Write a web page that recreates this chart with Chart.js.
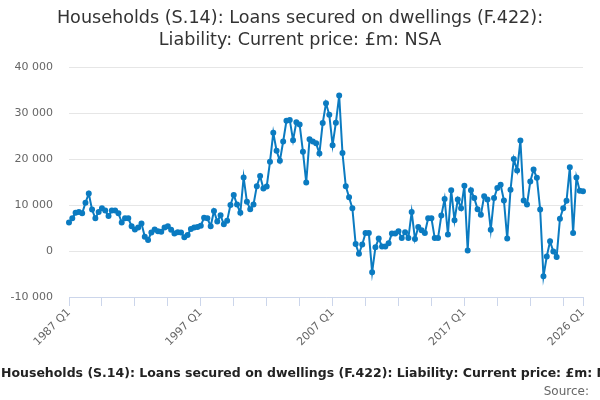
<!DOCTYPE html>
<html>
<head>
<meta charset="utf-8">
<script src="https://cdn.jsdelivr.net/npm/chart.js@4/dist/chart.umd.min.js"></script>
<style>
    html, body { margin: 0; padding: 0; background: #fff; }
    #wrap { position: relative; width: 600px; height: 400px; overflow: hidden; }
    #chartTitle {
        position: absolute; top: 6px; left: 0; width: 600px;
        text-align: center; font-family: 'DejaVu Sans', sans-serif;
        font-size: 17.6px; line-height: 22px; color: #333;
    }
    #footTitle {
        position: absolute; top: 365px; left: 1px; white-space: nowrap;
        font-family: 'DejaVu Sans', sans-serif; font-size: 12.5px; font-weight: bold; color: #222;
    }
    #footSource {
        position: absolute; top: 384px; right: 11px;
        font-family: 'DejaVu Sans', sans-serif; font-size: 12px; color: #666;
    }
    canvas { position: absolute; top: 0; left: 0; }
</style>
</head>
<body>
<div id="wrap">
    <canvas id="loansChart" width="600" height="400"></canvas>
    <div id="chartTitle">Households (S.14): Loans secured on dwellings (F.422):<br>Liability: Current price: £m: NSA</div>
    <div id="footTitle">Households (S.14): Loans secured on dwellings (F.422): Liability: Current price: £m: NSA</div>
    <div id="footSource">Source:</div>
</div>
<script>
// Quarters 1987 Q1 .. 2026 Q1
const startYear = 1987;
const quarterCount = 157;
const labelledQuarters = ['1987 Q1', '1997 Q1', '2007 Q1', '2017 Q1', '2026 Q1'];
const yTicks = [-10000, 0, 10000, 20000, 30000, 40000];

// £m
const loans = [
    6200, 7100, 8300, 8500, 8200, 10500, 12500, 9000, 7100, 8500,
    9300, 8800, 7600, 8800, 8800, 8200, 6200, 7100, 7100, 5400,
    4700, 5100, 6000, 3100, 2400, 4000, 4700, 4300, 4200, 5100,
    5400, 4600, 3800, 4100, 4000, 3000, 3500, 4800, 5100, 5200,
    5500, 7250, 7100, 5400, 8700, 6400, 7750, 5800, 6600, 10000,
    12200, 10100, 8300, 16000, 10700, 9100, 10100, 14100, 16300, 13600,
    14000, 19400, 25700, 21800, 19600, 23800, 28300, 28500, 24100, 28000,
    27500, 21600, 14900, 24300, 23800, 23400, 21200, 27800, 32100, 29600,
    23000, 27900, 33800, 21300, 14100, 11700, 9300, 1500, -600, 1400,
    3900, 3900, -4600, 800, 2700, 1000, 1000, 1700, 3800, 3800,
    4300, 2800, 4100, 2800, 8500, 2600, 5200, 4500, 3900, 7100,
    7100, 2800, 2800, 7700, 11300, 3600, 13200, 6700, 11200, 9300,
    14200, 100, 13200, 11500, 9100, 7900, 11900, 11200, 4600, 11500,
    13700, 14400, 11000, 2700, 13300, 20000, 17500, 24000, 11000, 10100,
    15100, 17700, 15900, 9000, -5500, -1200, 2100, -100, -1300, 7000,
    9300, 10900, 18200, 3900, 16000, 13100, 13000
];

const quarters = [];
for (let i = 0; i < quarterCount; i++) {
    quarters.push((startYear + Math.floor(i / 4)) + ' Q' + (i % 4 + 1));
}

function formatThousands(v) {
    const s = Math.abs(v).toString().replace(/\B(?=(\d{3})+(?!\d))/g, ' ');
    return (v < 0 ? '-' : '') + s;
}

// tick marks every 10 quarters, plus the last one
function hasTickMark(i) {
    return i % 10 === 0 || i === quarterCount - 1;
}

const axisFont = { family: "'DejaVu Sans', sans-serif", size: 11 };

new Chart(document.getElementById('loansChart'), {
    type: 'line',
    data: {
        labels: quarters,
        datasets: [{
            data: loans,
            borderColor: '#0b7bc1',
            backgroundColor: '#0b7bc1',
            borderWidth: 2,
            pointRadius: 2,
            pointHoverRadius: 2,
            tension: 0
        }]
    },
    options: {
        responsive: false,
        animation: false,
        events: [],
        layout: { padding: { left: 0, right: 17, top: 67, bottom: 0 } },
        plugins: {
            legend: { display: false },
            tooltip: { enabled: false }
        },
        scales: {
            x: {
                type: 'category',
                offset: false,
                afterFit: scale => { scale.height = 103; },
                border: { display: true, color: '#ccd6eb', width: 1 },
                grid: {
                    drawOnChartArea: false,
                    drawTicks: true,
                    tickLength: 9,
                    tickColor: ctx => hasTickMark(ctx.index) ? '#ccd6eb' : 'rgba(0,0,0,0)'
                },
                ticks: {
                    autoSkip: false,
                    minRotation: 45,
                    maxRotation: 45,
                    padding: 0,
                    color: '#666',
                    font: axisFont,
                    callback: (v, i) => labelledQuarters.includes(quarters[i]) ? quarters[i] : ''
                }
            },
            y: {
                min: yTicks[0],
                max: yTicks[yTicks.length - 1],
                afterFit: scale => { scale.width = 69; },
                afterBuildTicks: scale => { scale.ticks = yTicks.map(v => ({ value: v })); },
                border: { display: false },
                grid: { color: '#e6e6e6', drawTicks: false },
                ticks: {
                    padding: 16,
                    color: '#666',
                    font: axisFont,
                    callback: v => formatThousands(v)
                }
            }
        }
    }
});
</script>
</body>
</html>
